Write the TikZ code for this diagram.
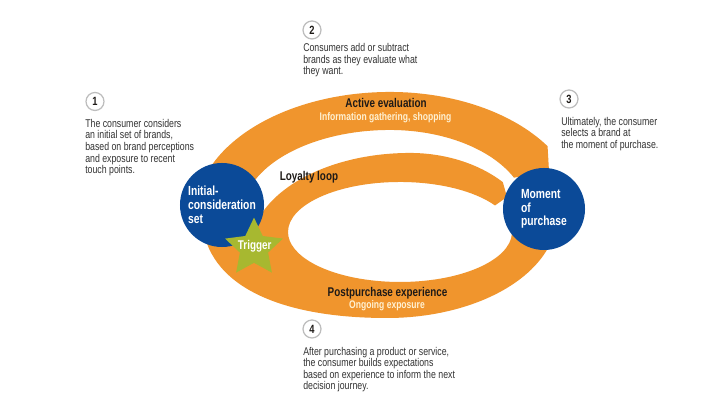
\documentclass[tikz,border=0pt]{standalone}
\usepackage{fontspec}
\setmainfont{Liberation Sans}[FakeStretch=0.78]
\usetikzlibrary{shapes.geometric}

\definecolor{bandorange}{HTML}{F0952D}
\definecolor{hubblue}{HTML}{0B4A98}
\definecolor{triggreen}{HTML}{A7B830}
\definecolor{subcream}{HTML}{FFF1D2}
\definecolor{labeldark}{HTML}{1E1A17}
\definecolor{notegray}{HTML}{333333}
\definecolor{ringgray}{HTML}{BDBDBD}

\begin{document}
\begin{tikzpicture}[x=0.025cm, y=0.025cm,
    band/.style={fill=bandorange},
    hub/.style={circle, fill=hubblue, inner sep=0pt, minimum size=2.1cm,
                text=white, align=left,
                font=\fontsize{9.4pt}{9.8pt}\selectfont\bfseries},
    stepnum/.style={circle, draw=ringgray, line width=0.9pt, fill=white,
                    minimum size=0.45cm, inner sep=0pt, text=labeldark,
                    font=\fontsize{8.5pt}{9pt}\selectfont\bfseries},
    note/.style={anchor=north west, inner sep=0pt, align=left, text=notegray,
                 font=\fontsize{8pt}{8.2pt}\selectfont},
    stage/.style={anchor=base, inner sep=0pt, text=labeldark,
                  font=\fontsize{9pt}{10pt}\selectfont\bfseries},
    stagesub/.style={anchor=base, inner sep=0pt, text=subcream,
                     font=\fontsize{7.8pt}{9pt}\selectfont\bfseries}]

    \fill[white] (0,0) rectangle (718,400);

    % postpurchase band + loyalty loop
    \fill[band] (202,185) .. controls (202,120) and (270,82) .. (387,82)
      arc[start angle=270, end angle=370, x radius=170, y radius=103]
      -- (510.3,176.7)
      arc[start angle=10, end angle=-180, x radius=112, y radius=50]
      arc[start angle=180, end angle=32, x radius=112, y radius=50]
      -- (507,203) -- (502.8,217.9)
      arc[start angle=44.4, end angle=90, x radius=130, y radius=97]
      arc[start angle=90, end angle=170, x radius=160, y radius=97]
      -- cycle;

    % active evaluation band
    \fill[band] (206.8,227.1)
      arc[start angle=160, end angle=90, x radius=195, y radius=123]
      arc[start angle=90, end angle=34, x radius=190, y radius=123]
      -- (549,229) -- (514,222.3)
      arc[start angle=26, end angle=90, x radius=138, y radius=85]
      arc[start angle=90, end angle=165, x radius=148, y radius=85]
      -- cycle;

    \node[hub] (initial) at (222,195) {Initial-\\consideration\\set};
    \node[hub, minimum size=2.05cm] (moment) at (544,191) {Moment\\of\\purchase};

    \node[star, star points=5, star point ratio=2.05, fill=triggreen,
          minimum size=1.52cm, inner sep=0pt] (trigger) at (254,152) {};
    \node[stage, text=white] (triggertxt) at (254.7,150) {Trigger};

    \node[stage] (active) at (386,292.3) {Active evaluation};
    \node[stagesub] (activesub) at (385.5,279) {Information gathering, shopping};
    \node[stage] (loyalty) at (309,219.3) {Loyalty loop};
    \node[stage] (post) at (387.5,103.3) {Postpurchase experience};
    \node[stagesub] (postsub) at (387,91.3) {Ongoing exposure};

    \foreach \n/\px/\py in {1/95/298.5, 2/312/370, 3/569/301, 4/312/71}
      \node[stepnum] (num\n) at (\px,\py) {\n};

    \node[note] (note1) at (85,281) {The consumer considers\\an initial set of brands,\\based on brand perceptions\\and exposure to recent\\touch points.};
    \node[note] (note2) at (303,356.7) {Consumers add or subtract\\brands as they evaluate what\\they want.};
    \node[note] (note3) at (561,283) {Ultimately, the consumer\\selects a brand at\\the moment of purchase.};
    \node[note] (note4) at (303,53.3) {After purchasing a product or service,\\the consumer builds expectations\\based on experience to inform the next\\decision journey.};
  \end{tikzpicture}
\end{document}
